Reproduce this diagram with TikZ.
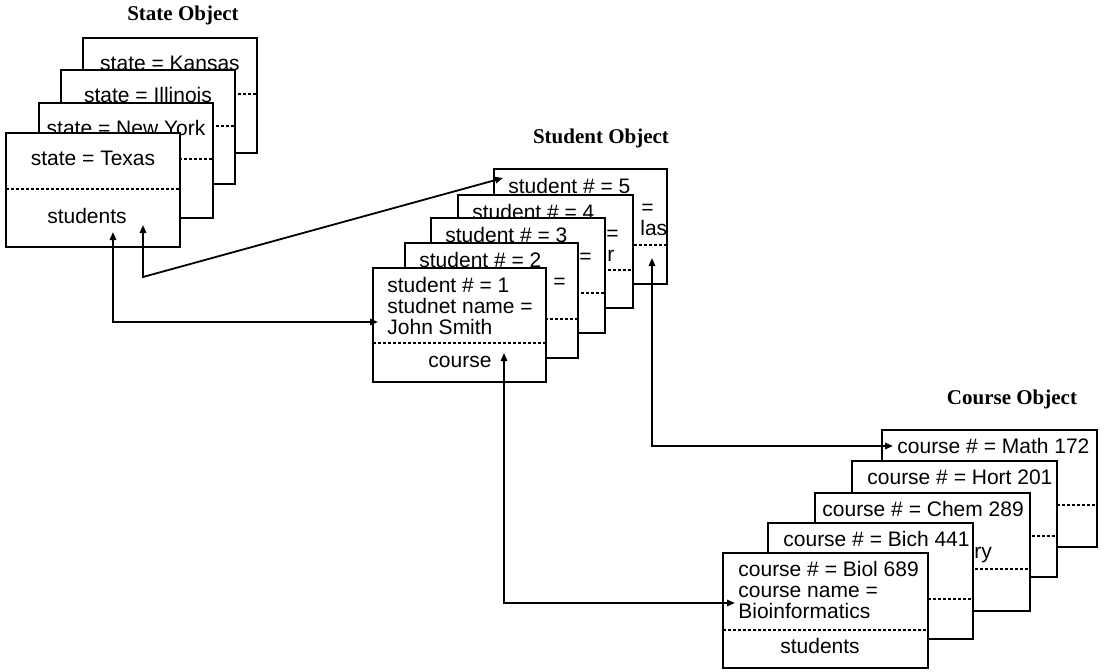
\documentclass[tikz,border=0pt]{standalone}
\usepackage{fontspec}
\setmainfont{Liberation Sans}
\newfontfamily\titlefont{Liberation Serif}
\usetikzlibrary{arrows.meta}
\tikzset{
  card/.style={draw=black, fill=white, line width=0.9pt, inner sep=0pt, outer sep=0pt},
  sep/.style={line width=0.8pt, dash pattern=on 1.5pt off 1pt},
  txt/.style={font=\fontsize{10.5}{10.5}\selectfont, inner sep=0pt},
  ttl/.style={font=\titlefont\bfseries\fontsize{10.5}{10.5}\selectfont, inner sep=0pt},
  link/.style={line width=0.9pt, {Triangle[length=4pt,width=3.2pt]}-{Triangle[length=4pt,width=3.2pt]}}
}
% card: name, left, top, width, height, depth of the dotted separator
\newcommand{\objcard}[6]{%
  \node[card, minimum width=#4*0.5pt, minimum height=#5*0.5pt] (#1) at ({#2+#4/2},{#3+#5/2}) {};
  \draw[sep] ([yshift=-#6*0.5pt]#1.north west) -- ([yshift=-#6*0.5pt]#1.north east);
}

\begin{document}
\begin{tikzpicture}[x=0.5pt, y=-0.5pt]
  \useasboundingbox (0,0) rectangle (1105,671);

  % state objects
  \node[ttl, anchor=base] (stT) at (183,20) {State Object};
  \objcard{ks}{83}{38}{174}{115}{56}
  \node[txt, anchor=base] (ksA) at (170,70) {state = Kansas};
  \objcard{il}{61}{70}{174}{114}{56}
  \node[txt, anchor=base] (ilA) at (148,102) {state = Illinois};
  \objcard{ny}{39}{103}{174}{115}{56}
  \node[txt, anchor=base] (nyA) at (126,135) {state = New York};
  \objcard{tx}{6}{133}{174}{114}{56}
  \node[txt, anchor=base] (txA) at (93,165) {state = Texas};
  \node[txt, anchor=base] (txB) at (87,223) {students};

  % student objects
  \node[ttl, anchor=base] (pnT) at (601,143) {Student Object};
  \objcard{p5}{494}{169}{173}{115}{76}
  \node[txt, anchor=base west] (p5A) at (508,193) {student \# = 5};
  \node[txt, anchor=base east] (p5B) at (654,214) {=};
  \node[txt, anchor=base west] (p5C) at (640,235) {las};
  \objcard{p4}{458}{195}{175}{113}{75}
  \node[txt, anchor=base west] (p4A) at (472,219) {student \# = 4};
  \node[txt, anchor=base east] (p4B) at (619,240) {=};
  \node[txt, anchor=base west] (p4C) at (607,261) {r};
  \objcard{p3}{431}{218}{174}{115}{75}
  \node[txt, anchor=base west] (p3A) at (445,242) {student \# = 3};
  \node[txt, anchor=base east] (p3B) at (592,263) {=};
  \objcard{p2}{405}{243}{173}{115}{76}
  \node[txt, anchor=base west] (p2A) at (419,267) {student \# = 2};
  \node[txt, anchor=base east] (p2B) at (566,288) {=};
  \objcard{p1}{373}{268}{173}{114}{75}
  \node[txt, anchor=base west] (p1A) at (387,292) {student \# = 1};
  \node[txt, anchor=base west] (p1B) at (387,313) {studnet name =};
  \node[txt, anchor=base west] (p1C) at (387,334) {John Smith};
  \node[txt, anchor=base] (p1D) at (460,367) {course};

  % course objects
  \node[ttl, anchor=base] (crT) at (1012,404) {Course Object};
  \objcard{c5}{882}{430}{215}{117}{75}
  \node[txt, anchor=base west] (c5A) at (897,453) {course \# = Math 172};
  \objcard{c4}{852}{461}{205}{116}{75}
  \node[txt, anchor=base west] (c4A) at (867,484) {course \# = Hort 201};
  \objcard{c3}{815}{493}{215}{118}{76}
  \node[txt, anchor=base west] (c3A) at (822,516) {course \# = Chem 289};
  \node[txt, anchor=base west] (c3C) at (974,558) {ry};
  \objcard{c2}{768}{523}{205}{116}{76}
  \node[txt, anchor=base west] (c2A) at (783,546) {course \# = Bich 441};
  \objcard{c1}{723}{553}{205}{115}{77}
  \node[txt, anchor=base west] (c1A) at (738,576) {course \# = Biol 689};
  \node[txt, anchor=base west] (c1B) at (738,597) {course name =};
  \node[txt, anchor=base west] (c1C) at (738,618) {Bioinformatics};
  \node[txt, anchor=base] (c1D) at (820,653) {students};

  % links
  \coordinate (txL) at (113,232);
  \coordinate (p1L) at (378,322);
  \coordinate (txR) at (143,225);
  \coordinate (txK) at (143,277);
  \coordinate (p5L) at (503,178);
  \coordinate (p1R) at (504,353);
  \coordinate (c1L) at (735,603);
  \coordinate (p5R) at (652,258);
  \coordinate (c5L) at (893,446);

  \draw[link] (txL) |- (p1L);
  \draw[link] (txR) -- (txK) -- (p5L);
  \draw[link] (p1R) |- (c1L);
  \draw[link] (p5R) |- (c5L);
\end{tikzpicture}
\end{document}
